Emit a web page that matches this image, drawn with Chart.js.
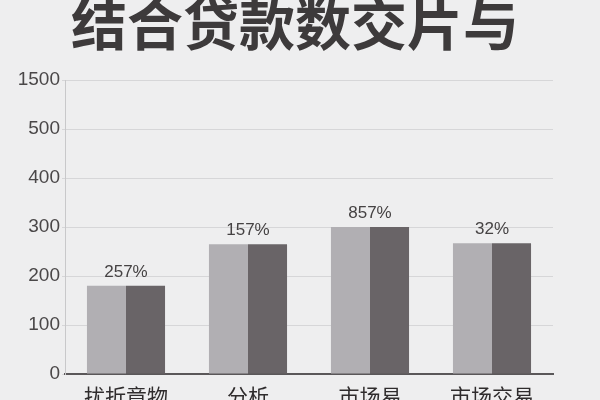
<!DOCTYPE html>
<html><head><meta charset="utf-8">
<script src="https://cdn.jsdelivr.net/npm/chart.js@4/dist/chart.umd.min.js"></script>
<style>html,body{margin:0;padding:0;background:#eeeeef;}#w{width:600px;height:400px;position:relative}</style>
</head><body><div id="w"><canvas id="c"></canvas></div>
<script>
const titleText = '结合贷款数交片与';
const categories = ['扰折竟物', '分析', '市场易', '市场交易'];
const seriesA = [180, 265, 300, 267];
const seriesB = [180, 265, 300, 267];
const pctLabels = ['257%', '157%', '857%', '32%'];
const yTickLabels = ['0', '100', '200', '300', '400', '500', '1500'];

const cjk = '"Noto Sans CJK SC", "Noto Sans", sans-serif';
const overlay = {
  id: 'overlay',
  afterDraw(chart) {
    const ctx = chart.ctx;
    ctx.save();
    ctx.fillStyle = '#3d3a3b';
    ctx.font = 'bold 56px ' + cjk;
    ctx.textAlign = 'center';
    ctx.textBaseline = 'alphabetic';
    ctx.fillText(titleText, 295, 45);
    const x = chart.scales.x, y = chart.scales.y;
    ctx.fillStyle = '#454243';
    ctx.font = '17px "Liberation Sans", Arial, sans-serif';
    ctx.textBaseline = 'bottom';
    pctLabels.forEach((t, i) => {
      const top = Math.max(seriesA[i], seriesB[i]);
      ctx.fillText(t, x.getPixelForValue(i), y.getPixelForValue(top) - 5);
    });
    ctx.restore();
  }
};

new Chart(document.getElementById('c'), {
  type: 'bar',
  data: {
    labels: categories,
    datasets: [
      { data: seriesA, backgroundColor: '#b1afb3', borderWidth: 0 },
      { data: seriesB, backgroundColor: '#696467', borderWidth: 0 }
    ]
  },
  options: {
    responsive: true, maintainAspectRatio: false, animation: false,
    layout: { padding: { top: 80, right: 47, left: 0, bottom: 0 } },
    plugins: { legend: { display: false }, tooltip: { enabled: false }, title: { display: false } },
    datasets: { bar: { categoryPercentage: 0.64, barPercentage: 1 } },
    scales: {
      x: {
        grid: { display: false },
        border: { color: '#5a5759', width: 2 },
        ticks: { color: '#2f2c2d', font: { family: cjk, size: 21 }, padding: 1 },
        afterFit(s) { s.height = 26; }
      },
      y: {
        min: 0, max: 600,
        ticks: { stepSize: 100, color: '#4a4748', padding: 2,
          font: { family: '"Liberation Sans", Arial, sans-serif', size: 19 },
          callback: (v, i) => yTickLabels[i] },
        grid: { color: '#d6d6d8', lineWidth: 1, drawTicks: true, tickLength: 3 },
        border: { color: '#c8c8ca' },
        afterFit(s) { s.width = 65; }
      }
    }
  },
  plugins: [overlay]
});
</script></body></html>
